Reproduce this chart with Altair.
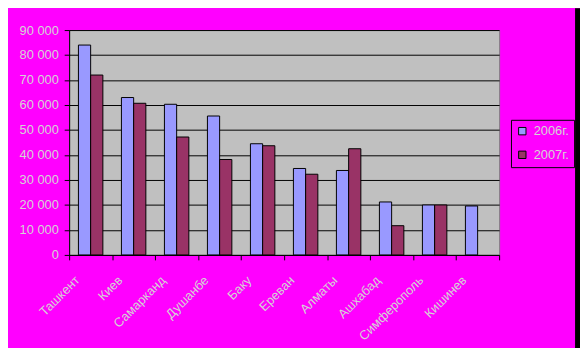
import altair as alt
import pandas as pd

cities = ["Ташкент", "Киев", "Самарканд", "Душанбе", "Баку", "Ереван",
          "Алматы", "Ашхабад", "Симферополь", "Кишинев"]
v2006 = [84000, 63000, 60300, 55600, 44500, 34600, 33800, 21200, 20000, 19600]
v2007 = [72000, 60700, 47200, 38200, 43700, 32300, 42500, 11700, 20000, None]
series = ["2006г.", "2007г."]
colors = ["#9999FF", "#993366"]
y_ticks = [0, 10000, 20000, 30000, 40000, 50000, 60000, 70000, 80000, 90000]

rows = []
for c, a, b in zip(cities, v2006, v2007):
    rows.append({"city": c, "year": series[0], "value": a})
    if b is not None:
        rows.append({"city": c, "year": series[1], "value": b})
df = pd.DataFrame(rows)

txt = "#d4d4d4"
font = "Liberation Sans"

bars = alt.Chart(df).mark_bar(stroke="black", strokeWidth=1).encode(
    x=alt.X("city:N", sort=cities, title=None,
            scale=alt.Scale(paddingInner=0, paddingOuter=0),
            axis=alt.Axis(labelAngle=-45, labelAlign="right", labelBaseline="top",
                          labelOffset=-18, labelPadding=14, labelFontSize=13,
                          labelColor=txt, labelFont=font, tickBand="extent",
                          tickColor="black", tickSize=5, domainColor="black",
                          domainWidth=1, grid=False, labelOverlap=False)),
    xOffset=alt.XOffset("year:N", sort=series,
                        scale=alt.Scale(paddingInner=0, paddingOuter=0.76)),
    y=alt.Y("value:Q", title=None,
            scale=alt.Scale(domain=[0, 90000], nice=False),
            axis=alt.Axis(values=y_ticks,
                          labelExpr="replace(format(datum.value, ','), regexp(',', 'g'), ' ')",
                          labelFontSize=13, labelColor=txt, labelFont=font,
                          labelPadding=6, tickSize=5, tickColor="black",
                          domainColor="black", gridColor="black", gridWidth=1,
                          grid=True)),
    color=alt.Color("year:N", sort=series,
                    scale=alt.Scale(domain=series, range=colors),
                    legend=alt.Legend(orient="none", legendX=448, legendY=91,
                                      title=None, strokeColor="black", padding=5,
                                      symbolType="square", symbolSize=56,
                                      symbolStrokeColor="black", symbolStrokeWidth=1,
                                      labelFontSize=13, labelColor=txt, labelFont=font,
                                      rowPadding=10, labelOffset=5)),
)

frame = alt.Chart(alt.Data(values=[{"k": 1}])).mark_rect(color="black")
right_border = frame.encode(x=alt.value(513), x2=alt.value(520),
                            y=alt.value(-22), y2=alt.value(330))

chart = alt.layer(bars, right_border).properties(
    width=436, height=228,
    autosize=alt.AutoSizeParams(type="none"),
    padding={"left": 62, "top": 20, "right": 82, "bottom": 92},
    background="#ff00ff",
).configure_view(fill="#c0c0c0", stroke="#808080", strokeWidth=1)

chart.save("out.html", embed_options={"renderer": "svg", "actions": False})
